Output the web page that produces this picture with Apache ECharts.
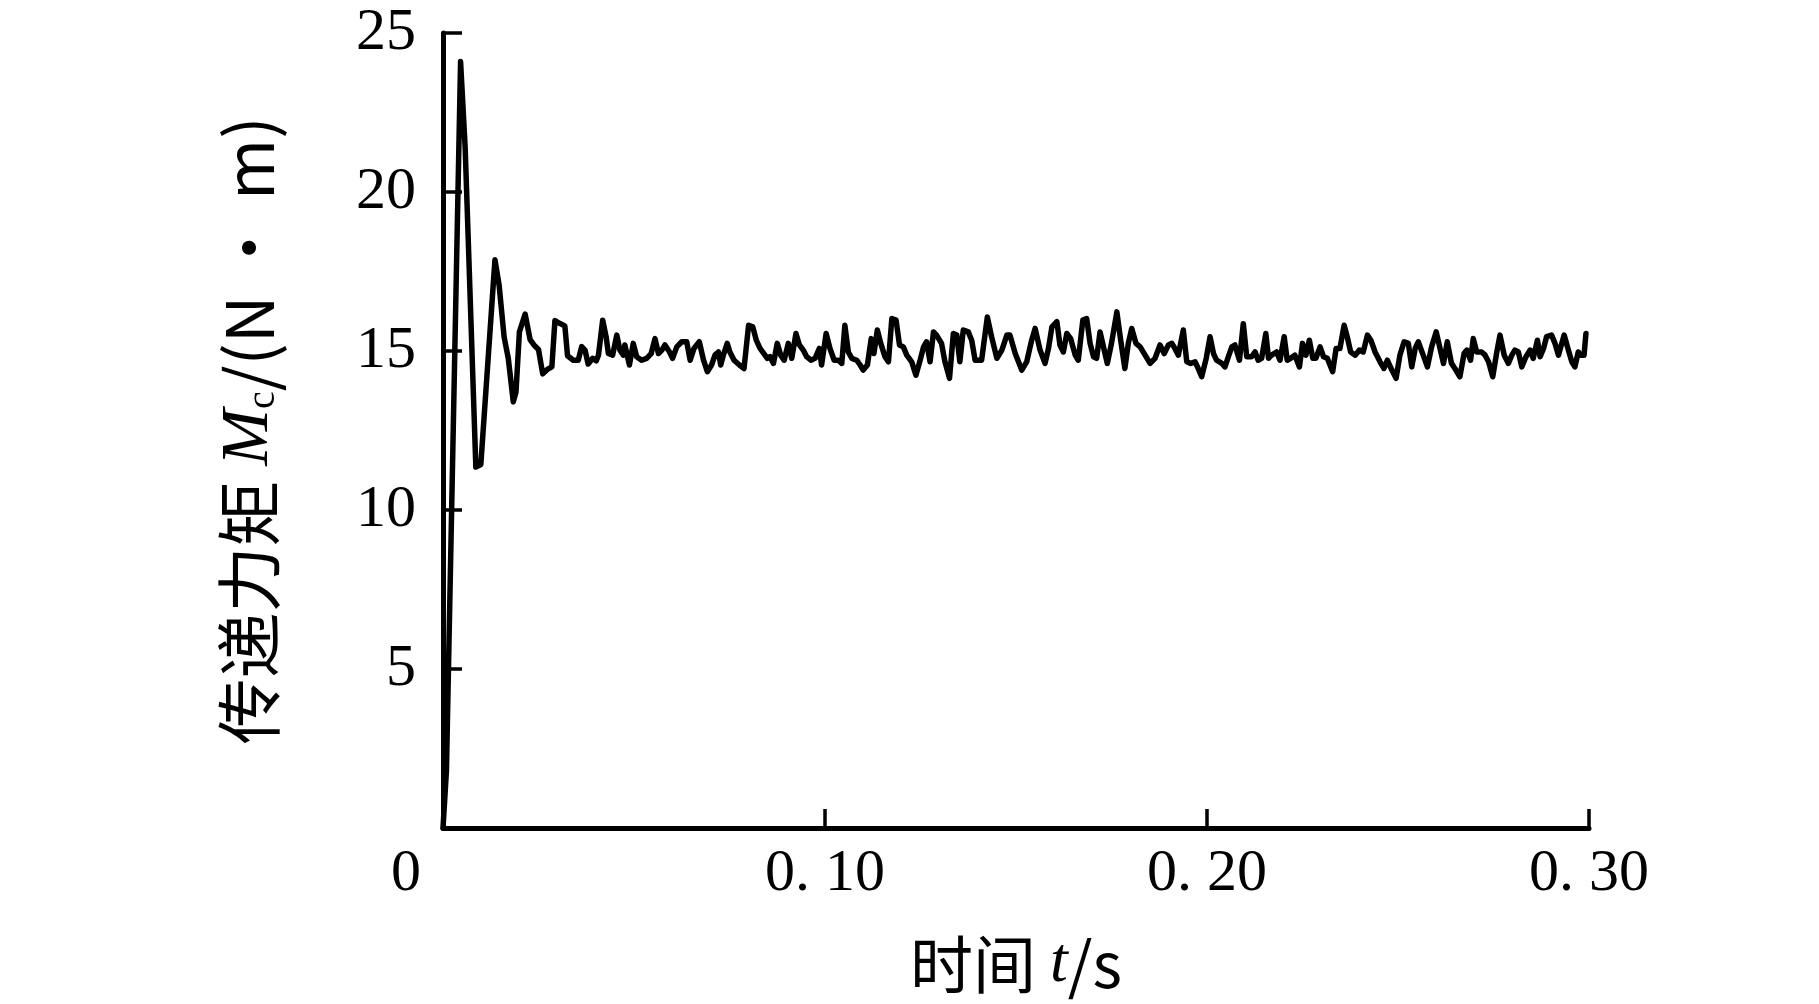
<!DOCTYPE html>
<html>
<head>
<meta charset="utf-8">
<script src="https://cdn.jsdelivr.net/npm/echarts@6/dist/echarts.min.js"></script>
<style>
html,body{margin:0;padding:0;background:#fff;}
#chart{width:1819px;height:1004px;}
</style>
</head>
<body>
<div id="chart"></div>
<script>
// time t (s)
var timeS = [
0.0000,0.0009,0.0046,0.0058,0.0086,0.0099,0.0136,0.0147,0.0160,0.0171,0.0184,0.0191,0.0200,0.0215,0.0228,0.0238,0.0250,0.0261,0.0273,0.0285,0.0293,0.0305,0.0319,0.0326,0.0341,0.0354,0.0363,0.0372,0.0380,
0.0392,0.0401,0.0407,0.0418,0.0427,0.0433,0.0444,0.0455,0.0463,0.0472,0.0476,0.0488,0.0498,0.0507,0.0520,0.0533,0.0545,0.0555,0.0564,0.0573,0.0581,0.0593,0.0601,0.0612,0.0625,0.0638,0.0647,0.0657,0.0671,0.0682,0.0692,0.0703,0.0712,0.0721,0.0727,0.0734,0.0744,0.0751,0.0762,0.0776,0.0788,0.0800,0.0811,0.0820,0.0830,
0.0840,0.0849,0.0856,0.0865,0.0875,0.0884,0.0893,0.0904,0.0913,0.0924,0.0933,0.0943,0.0952,0.0963,0.0974,0.0985,0.0991,0.1003,0.1013,0.1024,0.1035,0.1044,0.1052,0.1061,0.1070,0.1083,0.1092,0.1100,0.1111,0.1121,0.1128,0.1137,0.1146,0.1157,0.1166,0.1175,0.1186,0.1195,0.1205,0.1214,0.1227,0.1238,0.1249,0.1258,0.1266,0.1275,0.1284,
0.1292,0.1305,0.1314,0.1326,0.1336,0.1345,0.1353,0.1362,0.1375,0.1384,0.1393,0.1410,0.1425,0.1436,0.1450,0.1463,0.1476,0.1484,0.1498,0.1515,0.1528,0.1541,0.1550,0.1563,0.1576,0.1585,0.1594,0.1607,0.1615,0.1624,0.1633,0.1643,0.1655,0.1663,0.1675,0.1685,0.1694,0.1703,0.1711,
0.1720,0.1729,0.1739,0.1750,0.1764,0.1774,0.1785,0.1794,0.1803,0.1814,0.1825,0.1838,0.1851,0.1864,0.1877,0.1888,0.1899,0.1908,0.1916,0.1925,0.1938,0.1947,0.1957,0.1969,0.1977,0.1986,0.1998,0.2008,0.2017,0.2025,0.2039,0.2047,0.2056,0.2065,0.2073,0.2085,0.2095,0.2104,0.2117,0.2126,0.2134,0.2143,0.2154,0.2161,0.2169,
0.2182,0.2191,0.2202,0.2210,0.2219,0.2230,0.2242,0.2250,0.2259,0.2268,0.2277,0.2285,0.2296,0.2305,0.2315,0.2329,0.2338,0.2348,0.2359,0.2367,0.2376,0.2388,0.2399,0.2409,0.2420,0.2429,0.2440,0.2453,0.2463,0.2472,0.2484,0.2495,0.2505,0.2516,0.2527,0.2536,0.2545,0.2553,0.2566,0.2577,0.2588,0.2600,0.2610,
0.2619,0.2629,0.2640,0.2649,0.2662,0.2673,0.2680,0.2690,0.2697,0.2706,0.2719,0.2728,0.2737,0.2748,0.2758,0.2767,0.2778,0.2789,0.2798,0.2806,0.2815,0.2824,0.2835,0.2846,0.2854,0.2865,0.2872,0.2881,0.2889,0.2902,0.2911,0.2920,0.2935,0.2946,0.2955,0.2963,0.2972,0.2978,0.2987,0.2992
];
// transmitted torque Mc (N·m)
var torqueMc = [
0.00,1.80,24.10,21.40,11.35,11.43,17.87,17.06,15.44,14.76,13.40,13.70,15.60,16.16,15.36,15.19,15.05,14.28,14.42,14.50,15.96,15.87,15.79,14.85,14.71,14.71,15.14,15.02,14.59,
14.77,14.69,14.87,15.97,15.45,14.92,14.87,15.50,15.03,14.87,15.19,14.56,15.24,14.82,14.71,14.77,14.92,15.39,14.92,15.03,15.19,14.97,14.77,15.13,15.29,15.29,14.71,15.08,15.29,14.71,14.35,14.56,14.87,14.97,14.56,14.87,15.24,14.97,14.71,14.56,14.45,15.81,15.76,15.34,15.08,
14.92,14.77,14.82,14.61,15.24,14.87,14.71,15.24,14.77,15.55,15.19,15.03,14.82,14.71,14.77,15.08,14.56,15.55,15.08,14.71,14.71,14.61,15.81,14.97,14.77,14.71,14.56,14.40,14.56,15.39,14.92,15.66,15.24,14.82,14.66,16.02,15.97,15.19,15.13,14.87,14.66,14.24,14.71,15.13,15.29,14.66,15.60,
15.50,15.24,14.66,14.14,15.55,15.50,14.66,15.66,15.60,15.34,14.71,14.71,16.07,15.45,14.77,15.03,15.50,15.50,14.92,14.40,14.66,15.34,15.71,15.03,14.61,15.08,15.76,15.92,15.19,14.97,15.55,15.39,14.87,14.71,15.97,16.02,15.24,14.82,14.77,
15.60,15.13,14.61,15.24,16.23,15.34,14.45,15.24,15.71,15.24,15.13,14.87,14.61,14.77,15.19,14.92,15.19,15.24,15.08,14.87,15.66,14.66,14.61,14.66,14.45,14.19,14.77,15.45,14.92,14.71,14.61,14.50,14.82,15.13,15.19,14.71,15.86,14.82,14.82,14.97,14.71,14.77,15.55,14.77,14.87,
14.97,14.71,15.45,14.71,14.77,14.87,14.50,15.24,14.87,15.34,14.77,14.77,15.13,14.82,14.77,14.35,15.08,15.08,15.81,15.45,14.97,14.87,15.03,14.97,15.50,15.34,14.97,14.66,14.45,14.71,14.40,14.14,14.87,15.29,15.24,14.50,15.08,15.29,14.87,14.50,15.13,15.60,15.08,
14.61,15.29,14.61,14.45,14.19,14.92,15.03,14.71,15.39,14.97,14.97,14.87,14.66,14.19,14.92,15.50,14.87,14.61,14.87,15.03,14.97,14.50,14.82,15.03,14.77,15.34,14.82,15.08,15.45,15.50,15.24,14.87,15.50,15.03,14.66,14.50,14.97,14.87,14.87,15.55
];
var xTickLabels = ['0', '0. 10', '0. 20', '0. 30'];
var yTickLabels = ['', '5', '10', '15', '20', '25'];

var seriesData = timeS.map(function (t, i) { return [t, torqueMc[i]]; });

var numFont = '"Liberation Serif", "Times New Roman", serif';
var cjkFont = '"Noto Sans CJK SC", "Liberation Serif", serif';

var chart = echarts.init(document.getElementById('chart'), null, {renderer: 'canvas'});
chart.setOption({
  animation: false,
  backgroundColor: '#ffffff',
  grid: {left: 443, right: 230, top: 33, bottom: 176, containLabel: false},
  xAxis: {
    type: 'value', min: 0, max: 0.3, interval: 0.1,
    name: '时间 {i|t}/s',
    nameLocation: 'middle', nameGap: 104,
    nameTextStyle: {
      fontFamily: cjkFont, fontSize: 63, color: '#000',
      rich: {i: {fontFamily: numFont, fontStyle: 'italic', fontSize: 64, color: '#000'}}
    },
    axisLine: {show: true, onZero: false, lineStyle: {color: '#000', width: 5}},
    axisTick: {show: true, inside: true, length: 19, lineStyle: {color: '#000', width: 3.5}},
    splitLine: {show: false},
    axisLabel: {
      margin: 16, color: '#000', fontFamily: numFont, fontSize: 60,
      formatter: function (v, i) {
        var idx = Math.round(v / 0.1);
        if (idx === 0) { return '{z|' + xTickLabels[0] + '}'; }
        return xTickLabels[idx];
      },
      rich: {z: {fontFamily: numFont, fontSize: 60, color: '#000', padding: [0, 74, 0, 0]}}
    }
  },
  yAxis: {
    type: 'value', min: 0, max: 25, interval: 5,
    name: '传递力矩 {i|M}{sub|c}/(N · m)',
    nameLocation: 'middle', nameGap: 160, nameRotate: 90,
    nameTextStyle: {
      fontFamily: cjkFont, fontSize: 66, color: '#000',
      rich: {
        i: {fontFamily: numFont, fontStyle: 'italic', fontSize: 68, color: '#000'},
        sub: {fontFamily: numFont, fontSize: 40, color: '#000', verticalAlign: 'bottom'}
      }
    },
    axisLine: {show: true, onZero: false, lineStyle: {color: '#000', width: 5}},
    axisTick: {show: true, inside: true, length: 19, lineStyle: {color: '#000', width: 3.5}},
    splitLine: {show: false},
    axisLabel: {
      margin: 27, color: '#000', fontFamily: numFont, fontSize: 60,
      showMinLabel: false,
      formatter: function (v) { return yTickLabels[Math.round(v / 5)]; }
    }
  },
  series: [{
    type: 'line',
    data: seriesData,
    showSymbol: false,
    symbol: 'none',
    smooth: false,
    lineStyle: {color: '#000', width: 5.5, join: 'round', cap: 'round'},
    z: 3
  }]
});
</script>
</body>
</html>
